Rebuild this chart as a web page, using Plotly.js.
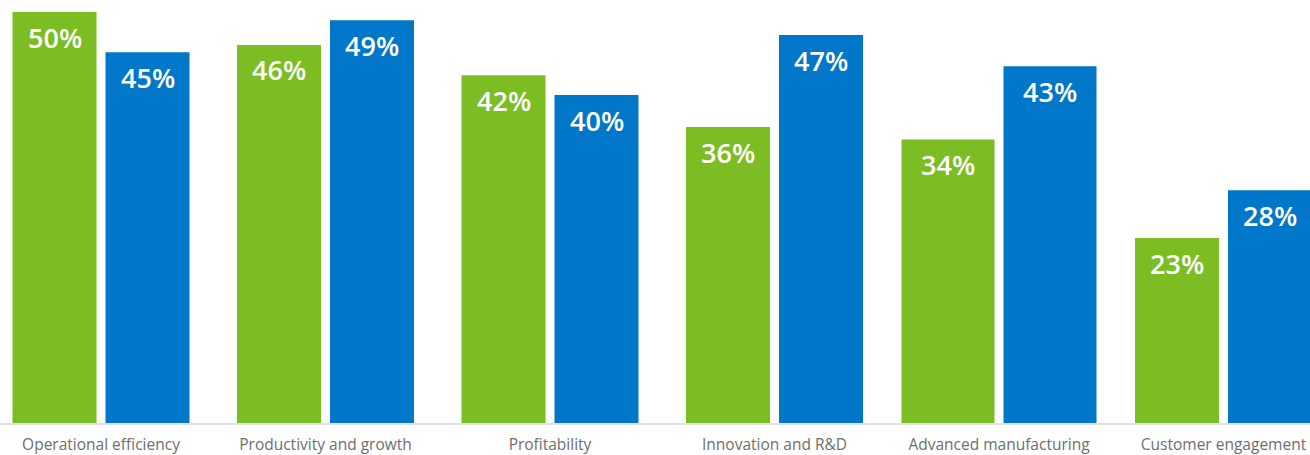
<!DOCTYPE html>
<html>
<head>
<meta charset="utf-8">
<script src="https://cdn.plot.ly/plotly-3.0.1.min.js"></script>
<style>
  html, body { margin: 0; padding: 0; background: #ffffff; }
  #chart { width: 1310px; height: 455px; }
</style>
</head>
<body>
<div id="chart"></div>
<script>
// ---- data ----
const categories = [
  "Operational efficiency",
  "Productivity and growth",
  "Profitability",
  "Innovation and R&D",
  "Advanced manufacturing",
  "Customer engagement"
];
const seriesGreen = [50.0, 46.0, 42.3, 36.0, 34.5, 22.5];
const seriesBlue  = [45.1, 49.0, 39.9, 47.2, 43.4, 28.3];
const labelsGreen = ["50%", "46%", "42%", "36%", "34%", "23%"];
const labelsBlue  = ["45%", "49%", "40%", "47%", "43%", "28%"];

// ---- styling / geometry (pixels converted to category units) ----
const PITCH = 224.5;           // px per category
const FIRST_CENTER = 101;      // px position of first category center
const WIDTH_PX = 1310;
const barPx   = [84, 84, 84, 84, 93, 84];
const halfGap = 4.5;
const u = px => px / PITCH;

const greenWidth  = barPx.map(w => u(w));
const greenOffset = barPx.map(w => -u(w + halfGap));
const blueWidth   = barPx.map(w => u(w));
const blueOffset  = barPx.map(() => u(halfGap));

const GREEN = "#7BBD22";
const BLUE  = "#0077C8";
const idx = categories.map((_, i) => i);

const traces = [
  { type: "bar", x: idx, y: seriesGreen, width: greenWidth, offset: greenOffset,
    marker: { color: GREEN, line: { width: 0 } }, hoverinfo: "skip", showlegend: false },
  { type: "bar", x: idx, y: seriesBlue, width: blueWidth, offset: blueOffset,
    marker: { color: BLUE, line: { width: 0 } }, hoverinfo: "skip", showlegend: false }
];

const labelFont = { family: "Open Sans, sans-serif", size: 27, color: "#ffffff", weight: 600 };
const annotations = [];
idx.forEach(i => {
  annotations.push({ x: i + greenOffset[i] + greenWidth[i] / 2, y: seriesGreen[i], xref: "x", yref: "y",
    text: labelsGreen[i], showarrow: false, xanchor: "center", yanchor: "middle", yshift: -25, font: labelFont });
  annotations.push({ x: i + blueOffset[i] + blueWidth[i] / 2, y: seriesBlue[i], xref: "x", yref: "y",
    text: labelsBlue[i], showarrow: false, xanchor: "center", yanchor: "middle", yshift: -25, font: labelFont });
});

const PLOT_BOTTOM = 423;
const PX_PER_UNIT = 8.22;

const layout = {
  width: WIDTH_PX, height: 455,
  margin: { l: 0, r: 0, t: 0, b: 455 - PLOT_BOTTOM, pad: 0 },
  paper_bgcolor: "#ffffff", plot_bgcolor: "#ffffff",
  barmode: "overlay",
  xaxis: {
    type: "linear",
    range: [-FIRST_CENTER / PITCH, (WIDTH_PX - FIRST_CENTER) / PITCH],
    tickmode: "array", tickvals: idx, ticktext: categories,
    ticks: "", showgrid: false, zeroline: false,
    showline: true, linecolor: "#E1E1E1", linewidth: 2,
    tickfont: { family: "Open Sans, sans-serif", size: 15.5, color: "#6E6E6E" },
    ticklabelstandoff: 6,
    fixedrange: true
  },
  yaxis: {
    range: [0, PLOT_BOTTOM / PX_PER_UNIT],
    visible: false, showgrid: false, zeroline: false, fixedrange: true
  },
  annotations: annotations,
  showlegend: false
};

Plotly.newPlot("chart", traces, layout, { displayModeBar: false, staticPlot: true });
</script>
</body>
</html>
